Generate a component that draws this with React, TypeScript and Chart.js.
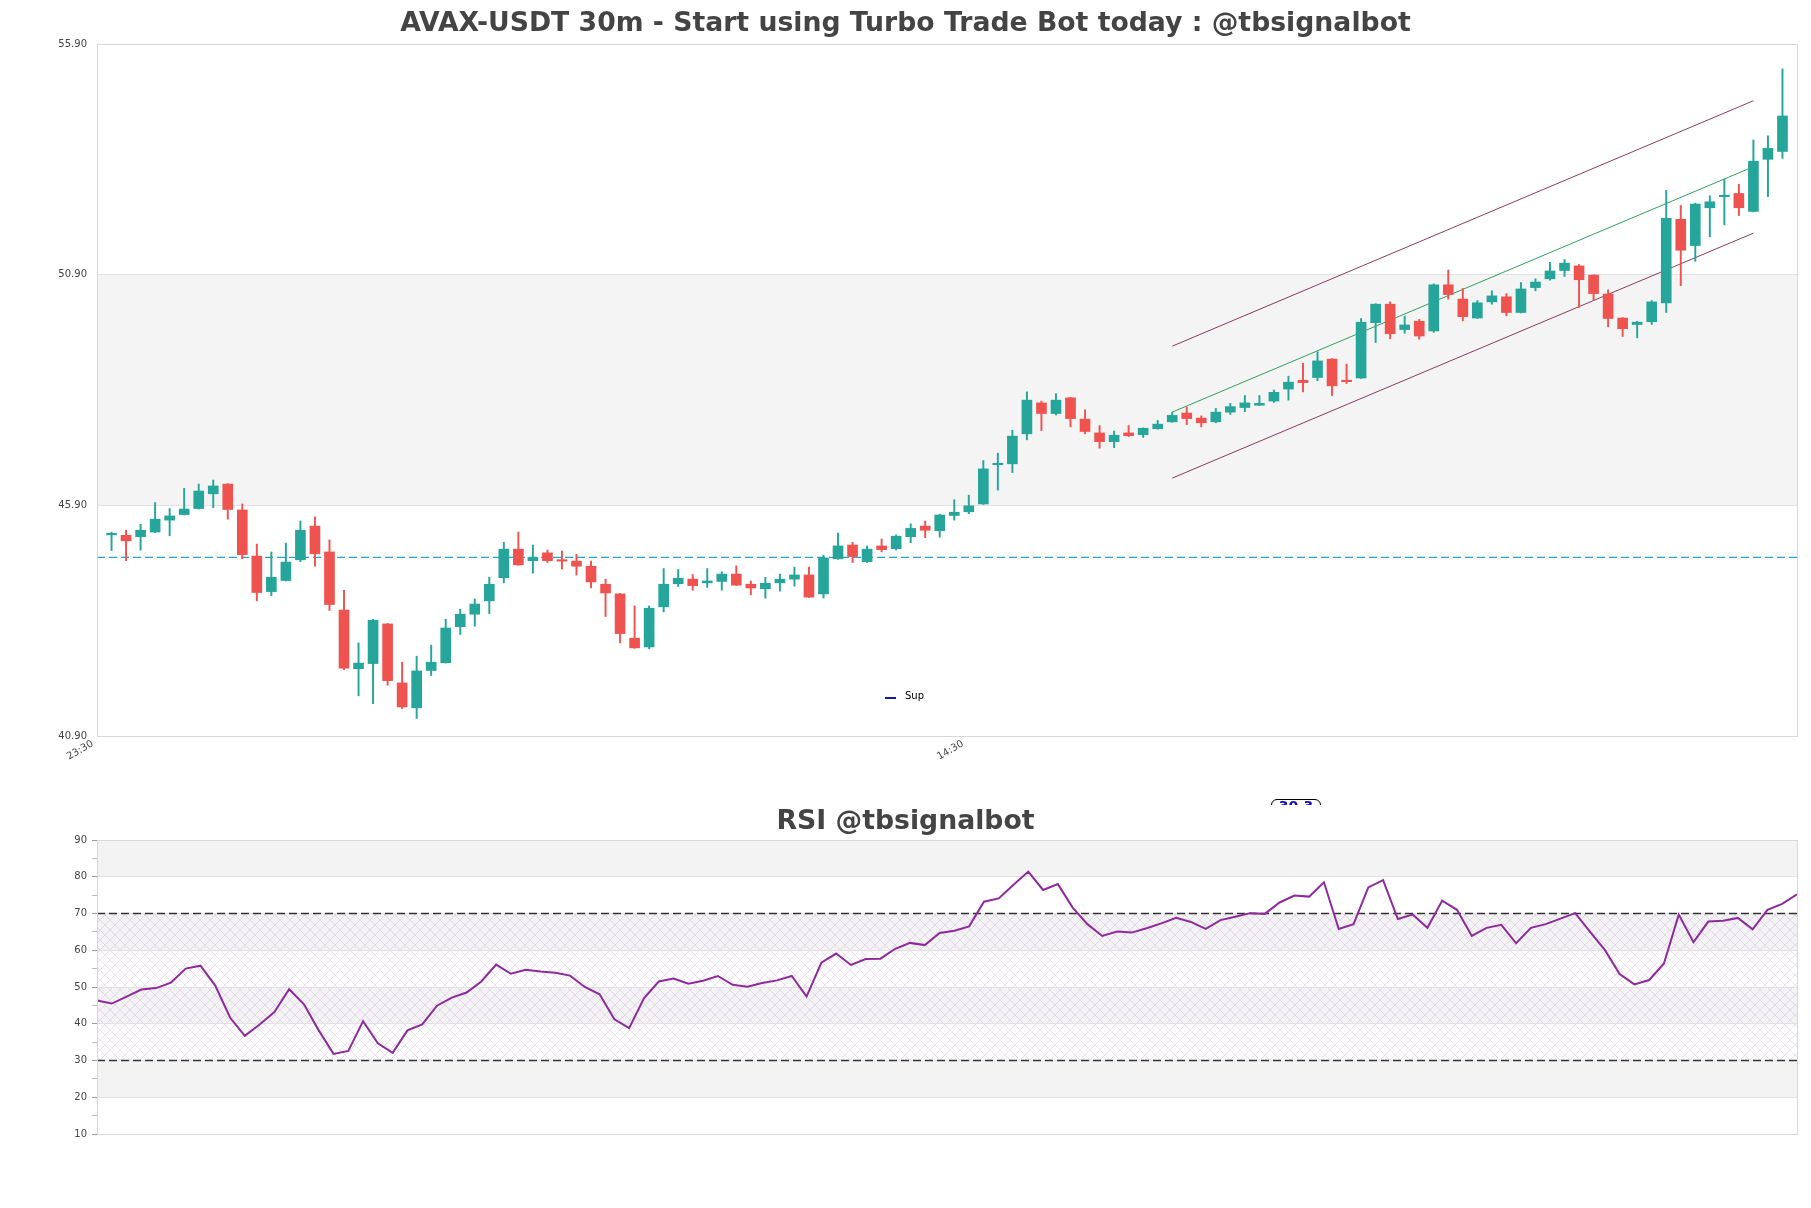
import React, { useEffect, useRef } from "react";
import { Chart, registerables } from "chart.js";

Chart.register(...registerables);
Chart.defaults.font.family = "'DejaVu Sans', sans-serif";

// ---------------- DATA ----------------
const CANDLE_OPEN = [
  45.26, 45.25, 45.22, 45.32, 45.58, 45.70, 45.83, 46.15, 46.36, 45.80,
  44.80, 44.03, 44.27, 44.72, 45.45, 44.89, 43.63, 42.36, 42.47, 43.33,
  42.05, 41.51, 42.32, 42.49, 43.27, 43.54, 43.83, 44.33, 44.95, 44.70,
  44.87, 44.71, 44.69, 44.58, 44.19, 43.98, 43.02, 42.83, 43.70, 44.20,
  44.30, 44.22, 44.25, 44.41, 44.19, 44.09, 44.22, 44.30, 44.39, 43.98,
  44.74, 45.04, 44.68, 45.02, 44.96, 45.22, 45.45, 45.35, 45.68, 45.76,
  45.93, 46.78, 46.80, 47.45, 48.12, 47.89, 48.23, 47.77, 47.47, 47.28,
  47.47, 47.43, 47.56, 47.71, 47.90, 47.79, 47.71, 47.92, 48.02, 48.07,
  48.16, 48.42, 48.61, 48.67, 49.07, 48.61, 48.66, 49.86, 50.26, 49.71,
  49.89, 49.68, 50.68, 50.37, 49.96, 50.31, 50.42, 50.08, 50.62, 50.81,
  50.99, 51.09, 50.89, 50.48, 49.96, 49.82, 49.88, 50.29, 52.10, 51.53,
  52.35, 52.59, 52.66, 52.27, 53.40, 53.57,
];
const CANDLE_HIGH = [
  45.32, 45.36, 45.49, 45.96, 45.83, 46.27, 46.36, 46.45, 46.37, 45.93,
  45.06, 44.89, 45.08, 45.56, 45.65, 45.15, 44.06, 42.92, 43.43, 43.34,
  42.50, 42.63, 42.87, 43.43, 43.65, 43.87, 44.34, 45.10, 45.32, 45.04,
  44.93, 44.91, 44.84, 44.69, 44.30, 43.99, 43.72, 43.72, 44.53, 44.51,
  44.40, 44.53, 44.46, 44.59, 44.26, 44.34, 44.41, 44.56, 44.56, 44.82,
  45.30, 45.10, 45.02, 45.17, 45.26, 45.50, 45.56, 45.71, 46.02, 46.12,
  46.87, 47.03, 47.53, 48.36, 48.16, 48.32, 48.24, 47.97, 47.63, 47.51,
  47.63, 47.58, 47.74, 47.92, 48.03, 47.84, 48.00, 48.11, 48.28, 48.28,
  48.40, 48.70, 48.98, 49.23, 49.08, 48.96, 49.95, 50.27, 50.31, 50.00,
  49.93, 50.70, 51.00, 50.60, 50.34, 50.55, 50.49, 50.73, 50.81, 51.17,
  51.23, 51.12, 50.90, 50.57, 49.97, 49.89, 50.34, 52.73, 52.40, 52.45,
  52.61, 52.97, 52.86, 53.82, 53.91, 55.36,
];
const CANDLE_LOW = [
  44.92, 44.70, 44.93, 45.31, 45.24, 45.69, 45.82, 45.85, 45.60, 44.74,
  43.83, 43.94, 44.26, 44.68, 44.58, 43.62, 42.34, 41.77, 41.60, 42.00,
  41.49, 41.28, 42.21, 42.48, 43.10, 43.28, 43.55, 44.22, 44.60, 44.43,
  44.66, 44.52, 44.39, 44.11, 43.49, 42.92, 42.80, 42.79, 43.59, 44.14,
  44.06, 44.12, 44.06, 44.16, 43.96, 43.89, 44.04, 44.15, 43.90, 43.89,
  44.73, 44.66, 44.66, 44.89, 44.93, 45.09, 45.20, 45.21, 45.58, 45.72,
  45.92, 46.23, 46.61, 47.32, 47.52, 47.86, 47.60, 47.45, 47.14, 47.15,
  47.39, 47.37, 47.55, 47.70, 47.65, 47.60, 47.69, 47.87, 47.93, 48.06,
  48.13, 48.18, 48.36, 48.60, 48.28, 48.54, 48.65, 49.43, 49.51, 49.63,
  49.50, 49.65, 50.37, 49.90, 49.95, 50.26, 50.01, 50.07, 50.55, 50.78,
  50.86, 50.19, 50.35, 49.77, 49.56, 49.53, 49.82, 50.08, 50.66, 51.19,
  51.72, 51.98, 52.18, 52.26, 52.59, 53.42,
];
const CANDLE_CLOSE = [
  45.28, 45.13, 45.36, 45.60, 45.67, 45.82, 46.21, 46.32, 45.81, 44.83,
  44.01, 44.34, 44.67, 45.36, 44.85, 43.75, 42.37, 42.48, 43.41, 42.10,
  41.53, 42.31, 42.50, 43.24, 43.54, 43.76, 44.19, 44.95, 44.61, 44.77,
  44.70, 44.69, 44.58, 44.24, 44.00, 43.12, 42.81, 43.67, 44.19, 44.32,
  44.16, 44.26, 44.41, 44.17, 44.11, 44.21, 44.30, 44.39, 43.91, 44.76,
  45.02, 44.79, 44.95, 44.94, 45.23, 45.40, 45.36, 45.69, 45.75, 45.89,
  46.69, 46.81, 47.40, 48.18, 47.89, 48.18, 47.78, 47.50, 47.28, 47.42,
  47.41, 47.57, 47.66, 47.85, 47.78, 47.69, 47.92, 48.04, 48.12, 48.11,
  48.35, 48.57, 48.56, 49.03, 48.49, 48.58, 49.87, 50.26, 49.62, 49.81,
  49.57, 50.68, 50.47, 49.99, 50.29, 50.44, 50.08, 50.59, 50.74, 50.98,
  51.15, 50.79, 50.49, 49.95, 49.73, 49.87, 50.31, 52.12, 51.43, 52.43,
  52.48, 52.62, 52.35, 53.36, 53.64, 54.34,
];

const RSI_VALUES = [
  46.3, 45.5, 47.4, 49.3, 49.7, 51.2, 55.0, 55.8, 50.4, 41.7,
  36.7, 39.8, 43.2, 49.4, 45.3, 38.2, 31.8, 32.6, 40.7, 34.7,
  32.1, 38.2, 39.8, 44.9, 47.1, 48.5, 51.5, 56.1, 53.6, 54.7,
  54.2, 53.9, 53.1, 50.0, 48.0, 41.2, 38.8, 46.9, 51.5, 52.3,
  50.9, 51.7, 53.0, 50.6, 50.1, 51.1, 51.8, 53.0, 47.4, 56.6,
  59.1, 56.0, 57.6, 57.7, 60.4, 62.0, 61.4, 64.7, 65.3, 66.5,
  73.2, 74.1, 77.8, 81.4, 76.4, 78.0, 71.6, 67.1, 63.9, 65.1,
  64.8, 66.0, 67.3, 68.8, 67.7, 65.8, 68.2, 69.1, 70.1, 69.9,
  73.0, 74.9, 74.6, 78.5, 65.8, 67.1, 77.1, 79.1, 68.5, 69.7,
  66.1, 73.5, 71.0, 63.9, 66.1, 66.9, 61.9, 66.1, 67.1, 68.6,
  70.1, 65.0, 60.1, 53.5, 50.7, 51.9, 56.4, 69.7, 62.2, 67.8,
  68.0, 68.8, 65.7, 71.0, 72.6, 75.2,
];

const PRICE_TICKS = [40.9, 45.9, 50.9, 55.9];
const TIME_TICK_POSITIONS = [-1.3, 58.6];
const TIME_TICK_LABELS = ["23:30", "14:30"];
const SUPPORT_LEVEL = 44.77;
const CHANNEL_X = [73, 113];
const CHANNEL_UPPER = [49.35, 54.67];
const CHANNEL_MIDDLE = [47.92, 53.24];
const CHANNEL_LOWER = [46.49, 51.8];
const RSI_TICKS = [10, 15, 20, 25, 30, 35, 40, 45, 50, 55, 60, 65, 70, 75, 80, 85, 90];
const RSI_LEVELS = [70, 30];
const RSI_GREY_BANDS = [[80, 90], [60, 70], [40, 50], [20, 30]];
const RSI_HATCH_BAND = [30, 70];
const PRICE_GREY_BAND = [45.9, 50.9];

const UP = "#26a69a";
const DOWN = "#ef5350";
const GRID = "#e2e2e2";
const BORDER = "#d8d8d8";

const W = 1811;

function borderPlugin(id: string) {
  return {
    id,
    afterDraw(chart: any) {
      const { ctx, chartArea: a } = chart;
      ctx.save();
      ctx.strokeStyle = BORDER;
      ctx.lineWidth = 1;
      ctx.strokeRect(Math.round(a.left) + 0.5, Math.round(a.top) + 0.5, Math.round(a.right - a.left), Math.round(a.bottom - a.top));
      ctx.restore();
    },
  };
}

function PriceChart() {
  const ref = useRef<HTMLCanvasElement | null>(null);
  useEffect(() => {
    const canvas = ref.current!;
    const colors = CANDLE_OPEN.map((o, i) => (CANDLE_CLOSE[i] >= o ? UP : DOWN));
    const bodies = CANDLE_OPEN.map((o, i) => ({ x: i, y: [Math.min(o, CANDLE_CLOSE[i]), Math.max(o, CANDLE_CLOSE[i])] }));
    const wicks = CANDLE_LOW.map((l, i) => ({ x: i, y: [l, CANDLE_HIGH[i]] }));
    const line = (ys: number[]) => CHANNEL_X.map((x, k) => ({ x, y: ys[k] }));
    const bandPlugin = {
      id: "priceBand",
      beforeDraw(chart: any) {
        const { ctx, chartArea: a, scales } = chart;
        const y1 = scales.y.getPixelForValue(PRICE_GREY_BAND[1]);
        const y0 = scales.y.getPixelForValue(PRICE_GREY_BAND[0]);
        ctx.save();
        ctx.fillStyle = "#f4f4f4";
        ctx.fillRect(a.left, y1, a.right - a.left, y0 - y1);
        ctx.restore();
      },
    };
    const chart = new Chart(canvas, {
      type: "bar",
      data: {
        datasets: [
          { type: "bar", label: "body", data: bodies as any, backgroundColor: colors, borderWidth: 0, barThickness: 10, minBarLength: 1.5, grouped: false } as any,
          { type: "bar", label: "wick", data: wicks as any, backgroundColor: colors, borderWidth: 0, barThickness: 1.3, grouped: false } as any,
          { type: "line", label: "Sup", data: [{ x: -1, y: SUPPORT_LEVEL }, { x: 116, y: SUPPORT_LEVEL }], borderColor: "rgb(40,160,210)", borderWidth: 1.3, borderDash: [8, 4], pointRadius: 0 } as any,
          { type: "line", label: "upper", data: line(CHANNEL_UPPER), borderColor: "rgb(140,60,95)", borderWidth: 1, pointRadius: 0 } as any,
          { type: "line", label: "middle", data: line(CHANNEL_MIDDLE), borderColor: "rgb(50,160,95)", borderWidth: 1, pointRadius: 0 } as any,
          { type: "line", label: "lower", data: line(CHANNEL_LOWER), borderColor: "rgb(140,60,95)", borderWidth: 1, pointRadius: 0 } as any,
        ],
      },
      options: {
        animation: false,
        responsive: false,
        maintainAspectRatio: false,
        events: [],
        layout: { padding: { top: 44, right: 14, left: 0, bottom: 0 } },
        plugins: { legend: { display: false }, tooltip: { enabled: false }, title: { display: false } },
        scales: {
          x: {
            type: "linear",
            min: -1,
            max: 116,
            offset: false,
            grid: { display: false },
            border: { display: false },
            afterBuildTicks: (s: any) => {
              s.ticks = TIME_TICK_POSITIONS.map((v) => ({ value: v }));
            },
            ticks: {
              autoSkip: false,
              minRotation: 30,
              maxRotation: 30,
              padding: -6,
              color: "#444",
              font: { size: 10 },
              callback: (_v: any, idx: number) => TIME_TICK_LABELS[idx],
            },
            afterFit: (s: any) => {
              s.height = 54;
              s.paddingLeft = 0;
              s.paddingRight = 0;
            },
          } as any,
          y: {
            type: "linear",
            min: 40.9,
            max: 55.9,
            afterBuildTicks: (s: any) => {
              s.ticks = PRICE_TICKS.map((v) => ({ value: v }));
            },
            ticks: { padding: 10, color: "#444", font: { size: 10 }, callback: (v: any) => Number(v).toFixed(2) },
            grid: { color: GRID, drawTicks: false },
            border: { display: false },
            afterFit: (s: any) => {
              s.width = 97;
            },
          } as any,
        },
      } as any,
      plugins: [bandPlugin, borderPlugin("priceBorder")],
    });
    return () => chart.destroy();
  }, []);
  return <canvas ref={ref} width={W} height={790} style={{ position: "absolute", left: 0, top: 0, width: W, height: 790 }} />;
}

function RsiChart() {
  const ref = useRef<HTMLCanvasElement | null>(null);
  useEffect(() => {
    const canvas = ref.current!;
    const pc = document.createElement("canvas");
    pc.width = 10;
    pc.height = 10;
    const pctx = pc.getContext("2d")!;
    pctx.strokeStyle = "rgba(195,160,215,0.55)";
    pctx.lineWidth = 0.6;
    pctx.beginPath();
    pctx.moveTo(0, 0);
    pctx.lineTo(10, 10);
    pctx.moveTo(10, 0);
    pctx.lineTo(0, 10);
    pctx.stroke();
    const bandPlugin = {
      id: "rsiBands",
      beforeDraw(chart: any) {
        const { ctx, chartArea: a, scales } = chart;
        const ys = scales.y;
        ctx.save();
        ctx.fillStyle = "#f3f3f3";
        RSI_GREY_BANDS.forEach(([lo, hi]) => {
          const t = ys.getPixelForValue(hi);
          const b = ys.getPixelForValue(lo);
          ctx.fillRect(a.left, t, a.right - a.left, b - t);
        });
        const pat = ctx.createPattern(pc, "repeat");
        if (pat) {
          ctx.fillStyle = pat;
          const t = ys.getPixelForValue(RSI_HATCH_BAND[1]);
          const b = ys.getPixelForValue(RSI_HATCH_BAND[0]);
          ctx.fillRect(a.left, t, a.right - a.left, b - t);
        }
        ctx.restore();
      },
    };
    const levelLine = (v: number) => [{ x: 0, y: v }, { x: RSI_VALUES.length - 1, y: v }];
    const chart = new Chart(canvas, {
      type: "line",
      data: {
        datasets: [
          { label: "RSI", data: RSI_VALUES.map((v, i) => ({ x: i, y: v })), borderColor: "#8e2a9c", borderWidth: 2, pointRadius: 0, tension: 0 },
          ...RSI_LEVELS.map((lv) => ({ label: "lvl" + lv, data: levelLine(lv), borderColor: "#333", borderWidth: 1.3, borderDash: [8, 4], pointRadius: 0 })),
        ] as any,
      },
      options: {
        animation: false,
        responsive: false,
        maintainAspectRatio: false,
        events: [],
        layout: { padding: { top: 50, right: 14, left: 0, bottom: 74 } },
        plugins: { legend: { display: false }, tooltip: { enabled: false }, title: { display: false } },
        scales: {
          x: { type: "linear", min: 0, max: RSI_VALUES.length - 1, display: false },
          y: {
            type: "linear",
            min: 10,
            max: 90,
            afterBuildTicks: (s: any) => {
              s.ticks = RSI_TICKS.map((v) => ({ value: v }));
            },
            ticks: { padding: 5, color: "#444", font: { size: 10 }, callback: (v: any) => (Number(v) % 10 === 0 ? String(v) : "") },
            grid: {
              color: (c: any) => (c.tick && c.tick.value % 10 === 0 ? GRID : "rgba(0,0,0,0)"),
              tickColor: (c: any) => (c.tick && c.tick.value % 10 === 0 ? "#999" : "#bbb"),
              tickLength: 5,
            },
            border: { display: false },
            afterFit: (s: any) => {
              s.width = 97;
            },
          } as any,
        },
      } as any,
      plugins: [bandPlugin, borderPlugin("rsiBorder")],
    });
    return () => chart.destroy();
  }, []);
  return <canvas ref={ref} width={W} height={418} style={{ position: "absolute", left: 0, top: 790, width: W, height: 418 }} />;
}

export default function App() {
  const titleStyle: React.CSSProperties = {
    position: "absolute",
    left: 0,
    width: W,
    textAlign: "center",
    fontFamily: "'DejaVu Sans', sans-serif",
    fontWeight: "bold",
    fontSize: 26.7,
    lineHeight: "30px",
    color: "#444",
    whiteSpace: "nowrap",
  };
  return (
    <div style={{ position: "absolute", left: 0, top: 0, width: W, height: 1208, background: "#fff", overflow: "hidden" }}>
      <PriceChart />
      <RsiChart />
      <div style={{ ...titleStyle, top: 7 }}>AVAX-USDT 30m - Start using Turbo Trade Bot today : @tbsignalbot</div>
      <div style={{ ...titleStyle, top: 805 }}>RSI @tbsignalbot</div>
      <div style={{ position: "absolute", left: 885, top: 697, width: 11, height: 2, background: "#1a1a9a" }} />
      <div style={{ position: "absolute", left: 905, top: 690, fontFamily: "'DejaVu Sans', sans-serif", fontSize: 10, lineHeight: "12px", color: "#000" }}>Sup</div>
      <div style={{ position: "absolute", left: 1271, top: 799, width: 50, height: 6, overflow: "hidden" }}>
        <div style={{ border: "1px solid #000", borderRadius: 6, height: 20, boxSizing: "border-box", textAlign: "center", color: "#1010c0", fontFamily: "'DejaVu Sans', sans-serif", fontWeight: "bold", fontSize: 14, lineHeight: "12px", paddingTop: 0 }}>30.3</div>
      </div>
    </div>
  );
}
